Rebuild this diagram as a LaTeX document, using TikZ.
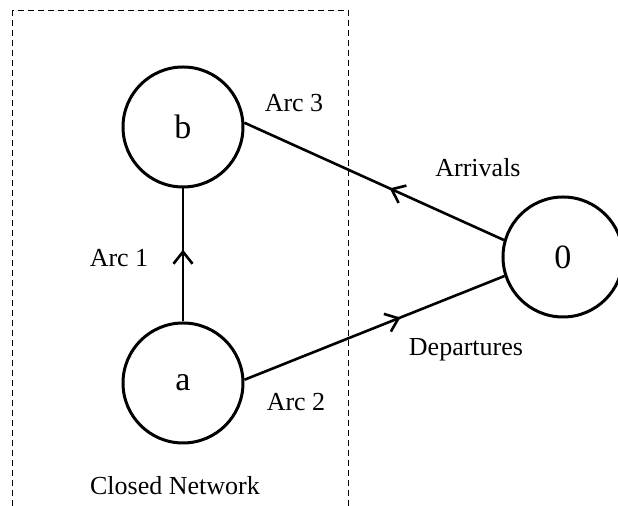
\documentclass[tikz,border=0pt]{standalone}
\usepackage{fontspec}
\setmainfont{Liberation Serif}
\usetikzlibrary{arrows.meta,positioning,decorations.markings}
\tikzset{
  station/.style={circle,draw,line width=1.5pt,minimum size=60pt,inner sep=0pt,
    font=\fontsize{17}{20}\selectfont},
  arclabel/.style={inner sep=0pt,font=\fontsize{13}{15}\selectfont},
  flow/.style={postaction={decorate},decoration={markings,
    mark=at position #1 with {\arrow{Straight Barb[length=6pt,width=9.5pt]}}}}
}
\begin{document}
\begin{tikzpicture}[x=0.5pt,y=-0.5pt,on grid,line width=1.3pt]
        \useasboundingbox (0,0) rectangle (618,506);
        % closed network frame
        \draw[line width=0.5pt,dash pattern=on 3pt off 2pt]
              (13,506) -- (13,11) -- (349,11) -- (349,506);
        \node[station]          (s_a) at (183,383) {a};
        \node[station]          (s_b) [above=128pt of s_a] {b};
        \node[station]          (s_0) [above right=63pt and 190pt of s_a] {0};
        \path
        (s_a)     edge [flow=0.54] (s_b)
        (s_a.3)   edge [flow=0.60] (s_0.198)
        (s_0.164) edge [flow=0.44] (s_b.4)
        ;
        \node[arclabel] (l_arc1) at (119,258) {Arc 1};
        \node[arclabel] (l_arc2) at (296,402) {Arc 2};
        \node[arclabel] (l_arc3) at (294,103) {Arc 3};
        \node[arclabel] (l_arr)  at (478,168) {Arrivals};
        \node[arclabel] (l_dep)  at (466,350) {Departures};
        \node[arclabel] (l_net)  at (175,486) {Closed Network};
\end{tikzpicture}
\end{document}
